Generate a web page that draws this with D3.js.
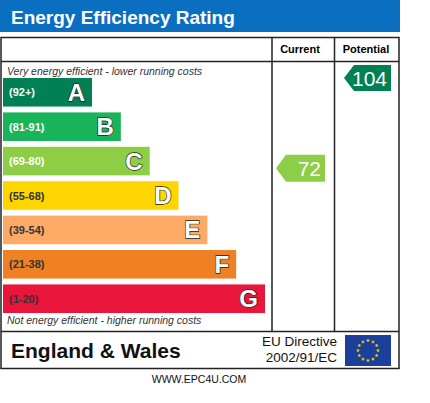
<!DOCTYPE html><html><head><meta charset="utf-8">
<script src="https://cdn.jsdelivr.net/npm/d3@7"></script>
<style>body{margin:0;background:#fff}text{font-family:Arial,"Liberation Sans",sans-serif}</style></head><body>
<script>
const bands = ["A","B","C","D","E","F","G"];
const ranges = ["(92+)","(81-91)","(69-80)","(55-68)","(39-54)","(21-38)","(1-20)"];
const mins = [92,81,69,55,39,21,1];
const colors = ["#008054","#19b459","#8dce46","#ffd500","#fcaa65","#ef8023","#e9153b"];
const currentValue = 72, potentialValue = 104;

const svg = d3.select("body").append("svg").attr("width",430).attr("height",403);
const y = d3.scaleBand().domain(bands).range([78,313]).paddingInner(0.17).paddingOuter(0);
const w = d3.scaleLinear().domain([0,6]).range([92,265]);
const bandOf = v => bands[mins.findIndex(m => v >= m)];

svg.append("rect").attr("x",0).attr("y",0).attr("width",400).attr("height",32).attr("fill","#0a6fc0");
svg.append("text").attr("x",11).attr("y",24).attr("fill","#fff").attr("font-size",19).attr("font-weight","bold").text("Energy Efficiency Rating");

const g = svg.append("g").attr("stroke","#222").attr("stroke-width",1.5).attr("fill","none");
g.append("rect").attr("x",1).attr("y",37.5).attr("width",398).attr("height",331);
g.append("line").attr("x1",1).attr("x2",399).attr("y1",61.5).attr("y2",61.5);
g.append("line").attr("x1",1).attr("x2",399).attr("y1",331.5).attr("y2",331.5);
g.append("line").attr("x1",272).attr("x2",272).attr("y1",37.5).attr("y2",331.5);
g.append("line").attr("x1",334.5).attr("x2",334.5).attr("y1",37.5).attr("y2",331.5);

svg.append("text").attr("x",300).attr("y",53).attr("text-anchor","middle").attr("font-size",11).attr("font-weight","bold").text("Current");
svg.append("text").attr("x",366).attr("y",53).attr("text-anchor","middle").attr("font-size",11).attr("font-weight","bold").text("Potential");
svg.append("text").attr("x",7).attr("y",75).attr("font-size",10.5).attr("font-style","italic").attr("fill","#333").text("Very energy efficient - lower running costs");
svg.append("text").attr("x",7).attr("y",324).attr("font-size",10.5).attr("font-style","italic").attr("fill","#333").text("Not energy efficient - higher running costs");

const rows = svg.selectAll("g.row").data(bands).join("g").attr("class","row");
rows.append("rect").attr("x",3).attr("y",d=>y(d)).attr("height",y.bandwidth()).attr("width",(d,i)=>w(i)-3).attr("fill",(d,i)=>colors[i]);
rows.append("text").attr("x",9).attr("y",d=>y(d)+y.bandwidth()/2+4).attr("font-size",11).attr("font-weight","bold").attr("fill",(d,i)=>i<3?"#fff":"#333").text((d,i)=>ranges[i]);
rows.append("text").attr("x",(d,i)=>w(i)-7).attr("y",d=>y(d)+y.bandwidth()/2+8.5).attr("text-anchor","end").attr("font-size",24).attr("font-weight","bold").attr("fill","#fff").attr("stroke","#222").attr("stroke-width",1.3).attr("paint-order","stroke").text(d=>d);

function arrow(val,x0,x1,yy,h){
  const i = bands.indexOf(bandOf(val));
  const p = [[x0,yy+h/2],[x0+10,yy],[x1,yy],[x1,yy+h],[x0+10,yy+h]];
  svg.append("polygon").attr("points",p.map(q=>q.join(",")).join(" ")).attr("fill",colors[i]);
  svg.append("text").attr("x",x1-4).attr("y",yy+h/2+7.5).attr("text-anchor","end").attr("font-size",21).attr("fill","#fff").text(val);
}
arrow(currentValue,276,325,y(bandOf(currentValue))+8,27);
arrow(potentialValue,344,391,65,26);

svg.append("text").attr("x",11).attr("y",358).attr("font-size",21).attr("font-weight","bold").attr("fill","#111").text("England & Wales");
svg.append("text").attr("x",337).attr("y",346).attr("text-anchor","end").attr("font-size",13.5).attr("fill","#111").text("EU Directive");
svg.append("text").attr("x",337).attr("y",362).attr("text-anchor","end").attr("font-size",13.5).attr("fill","#111").text("2002/91/EC");
svg.append("rect").attr("x",345).attr("y",335).attr("width",46).attr("height",31).attr("fill","#1c3f9b");
const stars = d3.range(12).map(k=>[368+10*Math.cos(k*Math.PI/6),350.5+10*Math.sin(k*Math.PI/6)]);
svg.selectAll("path.star").data(stars).join("path").attr("class","star").attr("transform",d=>`translate(${d[0]},${d[1]})`).attr("d",d3.symbol(d3.symbolStar,5)).attr("fill","#ffdd00");
svg.append("text").attr("x",199).attr("y",383).attr("text-anchor","middle").attr("font-size",10.5).attr("fill","#111").text("WWW.EPC4U.COM");
</script></body></html>
